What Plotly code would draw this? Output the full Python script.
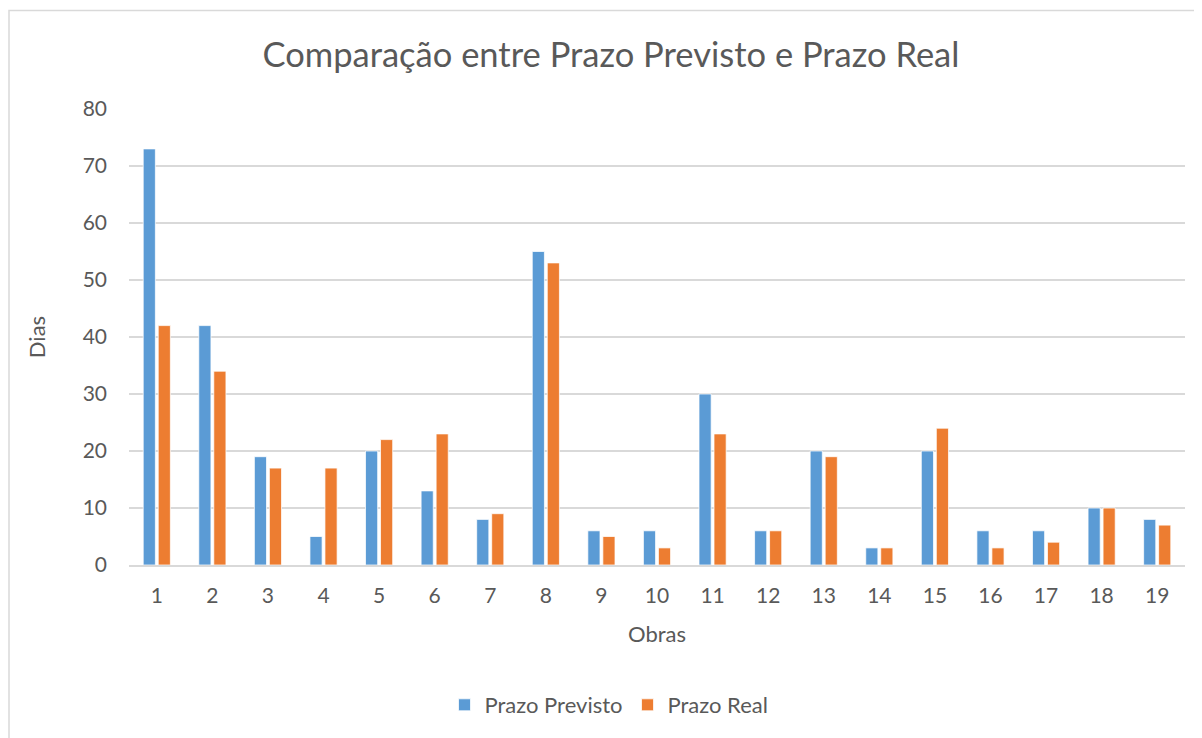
import plotly.graph_objects as go

obras = [str(i) for i in range(1, 20)]
prazo_previsto = [73, 42, 19, 5, 20, 13, 8, 55, 6, 6, 30, 6, 20, 3, 20, 6, 6, 10, 8]
prazo_real = [42, 34, 17, 17, 22, 23, 9, 53, 5, 3, 23, 6, 19, 3, 24, 3, 4, 10, 7]
y_ticks = [0, 10, 20, 30, 40, 50, 60, 70, 80]

FONT = "Lato"
TXT = "#595959"
GRID = "#D9D9D9"

fig = go.Figure()
fig.add_trace(go.Bar(x=obras, y=prazo_previsto, name="Prazo Previsto",
                     marker=dict(color="#5B9BD5", line=dict(color="white", width=0.75))))
fig.add_trace(go.Bar(x=obras, y=prazo_real, name="Prazo Real",
                     marker=dict(color="#ED7D31", line=dict(color="white", width=0.75))))

OFF = 8  # page body margin
W, H = 1202 - OFF, 738 - OFF
L, R, T, B = 129 - OFF, 1185 - OFF, 109 - OFF, 565 - OFF
pw, ph = R - L, B - T

fig.update_layout(
    width=W, height=H,
    margin=dict(l=L, r=W - R, t=T, b=H - B),
    paper_bgcolor="white", plot_bgcolor="white",
    barmode="group", bargap=0.46, bargroupgap=0.19,
    font=dict(family=FONT, color=TXT, size=21),
    title=dict(text="Comparação entre Prazo Previsto e Prazo Real",
               x=(611 - OFF) / W, xanchor="center", y=1 - (55 - OFF) / H,
               yanchor="middle",
               font=dict(size=34.5, color=TXT, family=FONT)),
    xaxis=dict(title=dict(text="Obras", standoff=21, font=dict(size=22)),
               showgrid=False, showline=True, linecolor=GRID, linewidth=1.5,
               ticks="", tickfont=dict(size=21), ticklabelstandoff=11),
    yaxis=dict(title=dict(text="Dias", standoff=30, font=dict(size=22)),
               range=[0, 80], tickvals=y_ticks, showgrid=True, gridcolor=GRID,
               gridwidth=1.5, zeroline=False, showline=False, ticks="",
               tickfont=dict(size=21), ticklabelstandoff=21),
    legend=dict(orientation="h", x=(609 - 129) / 1056, xanchor="center",
                y=(565 - 705) / 456, yanchor="middle",
                font=dict(size=22, color=TXT), traceorder="normal"),
    shapes=[dict(type="rect", xref="paper", yref="paper",
                 x0=(9 - 129) / 1056, x1=(1230 - 129) / 1056,
                 y0=(565 - 770) / 456, y1=(565 - 10.5) / 456,
                 line=dict(color=GRID, width=1.5), fillcolor="rgba(0,0,0,0)",
                 layer="below")],
)

fig.write_html("out.html")
